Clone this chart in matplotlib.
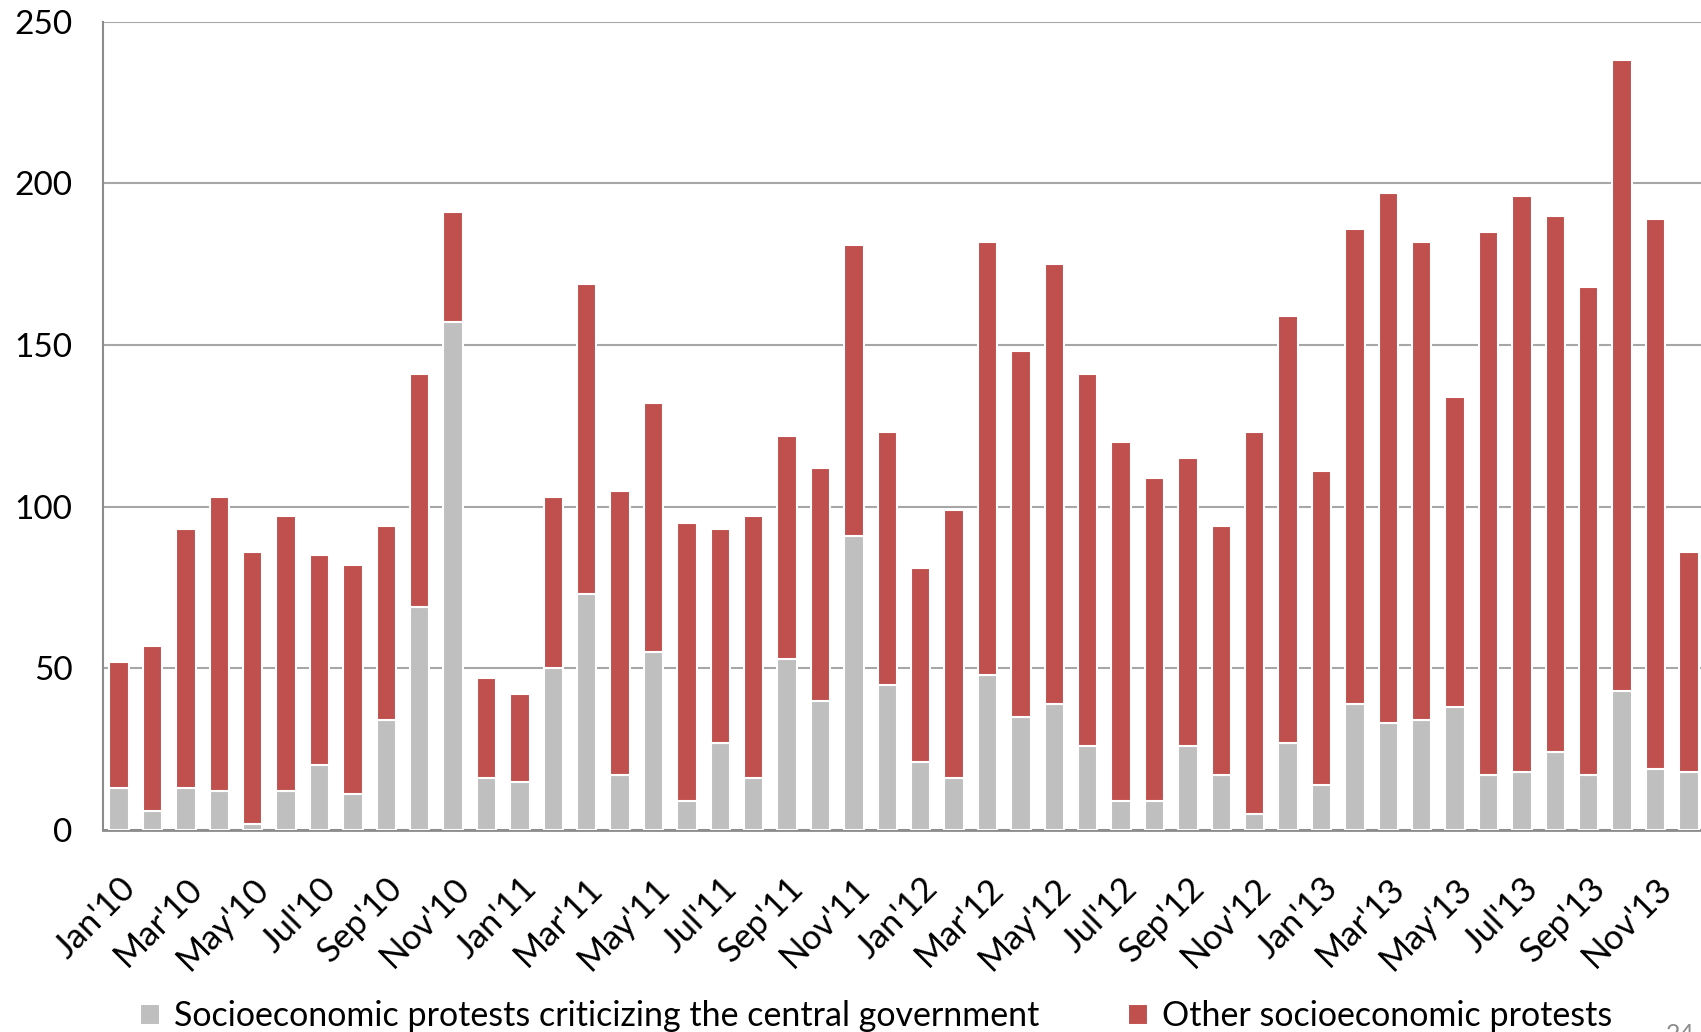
import matplotlib.pyplot as plt
import numpy as np

plt.rcParams['font.family'] = ['Lato', 'DejaVu Sans']

# Months Jan'10 .. Dec'13
months = [f"{m}'{y}" for y in ['10', '11', '12', '13']
          for m in ['Jan', 'Feb', 'Mar', 'Apr', 'May', 'Jun',
                    'Jul', 'Aug', 'Sep', 'Oct', 'Nov', 'Dec']]

# Protests criticizing the central government (gray part)
central = [13, 6, 13, 12, 2, 12, 20, 11, 34, 69, 157, 16,
           15, 50, 73, 17, 55, 9, 27, 16, 53, 40, 91, 45,
           21, 16, 48, 35, 39, 26, 9, 9, 26, 17, 5, 27,
           14, 39, 33, 34, 38, 17, 18, 24, 17, 43, 19, 18]

# Total height of each bar
total = [52, 57, 93, 103, 86, 97, 85, 82, 94, 141, 191, 47,
         42, 103, 169, 105, 132, 95, 93, 97, 122, 112, 181, 123,
         81, 99, 182, 148, 175, 141, 120, 109, 115, 94, 123, 159,
         111, 186, 197, 182, 134, 185, 196, 190, 168, 238, 189, 86]

other = [t - c for t, c in zip(total, central)]

labels = ['Socioeconomic protests criticizing the central government',
          'Other socioeconomic protests']

fig = plt.figure(figsize=(17.01, 10.32), dpi=100)
ax = fig.add_axes([103 / 1701, 0.1957, 1 - 103 / 1701, 0.979 - 0.1957])

x = np.arange(len(months))
ax.bar(x, central, width=0.58, color='#BFBFBF', edgecolor='white',
       linewidth=1.5, label=labels[0], zorder=3)
ax.bar(x, other, bottom=central, width=0.58, color='#C0504D',
       edgecolor='white', linewidth=1.5, label=labels[1], zorder=3)

ax.set_xlim(-0.48, 47.36)
ax.set_ylim(0, 250)
ax.set_yticks(range(0, 251, 50))
ax.yaxis.grid(True, color='#a6a6a6', linewidth=1.5, zorder=0)
ax.set_axisbelow(True)

ax.set_xticks(x[::2])
ax.set_xticklabels(months[::2], rotation=45, ha='right',
                   rotation_mode='anchor', fontsize=25)
ax.tick_params(axis='y', labelsize=24, length=0, pad=22)
ax.tick_params(axis='x', length=0, pad=30)

for s in ['top', 'right']:
    ax.spines[s].set_visible(False)
ax.spines['left'].set_color('#8c8c8c')
ax.spines['left'].set_linewidth(1.5)
ax.spines['bottom'].set_color('#8c8c8c')
ax.spines['bottom'].set_linewidth(2)

fig.legend(loc='lower center', bbox_to_anchor=(0.515, -0.03), ncol=2,
           frameon=False, fontsize=24.5, handlelength=0.6, handleheight=0.6,
           handletextpad=0.4, columnspacing=2.6)

fig.text(0.988, -0.014, '24', fontsize=18, color='#8c8c8c', ha='center',
         va='bottom')

fig.savefig('out.png', dpi=100)
